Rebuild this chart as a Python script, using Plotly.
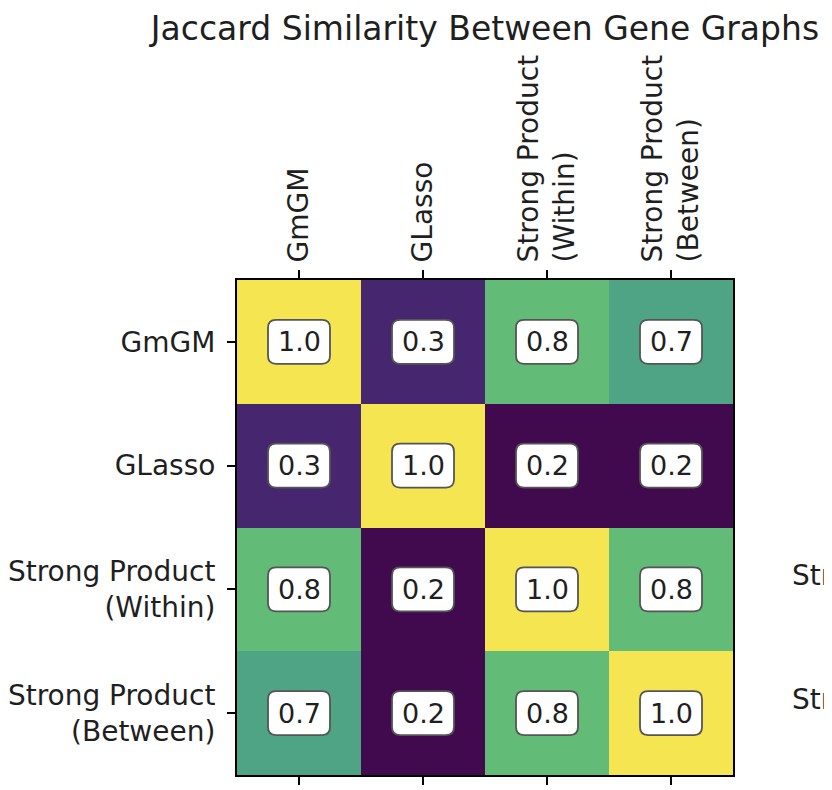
import plotly.graph_objects as go

labels = ["GmGM", "GLasso", "Strong Product<br>(Within)", "Strong Product<br>(Between)"]
row_gmgm = [1.0, 0.26, 0.78, 0.68]
row_glasso = [0.26, 1.0, 0.20, 0.20]
row_spw = [0.78, 0.20, 1.0, 0.78]
row_spb = [0.68, 0.20, 0.78, 1.0]
matrix = [row_gmgm, row_glasso, row_spw, row_spb]
title = "Jaccard Similarity Between Gene Graphs"

# viridis as it appears in the reference picture
colorscale = [[0.0, "#410a4f"], [0.075, "#472670"], [0.3, "#3b5a8c"],
              [0.6, "#4ea485"], [0.725, "#63bb78"], [1.0, "#f5e550"]]

n = len(labels)
idx = list(range(n))
W, H = 832, 790
L, R, T, B = 229, 107, 272, 23
FONT = "DejaVu Sans"
TXT = "#1f1f1f"

flat = [v for r in matrix for v in r]
fig = go.Figure(go.Heatmap(
    z=matrix, x=idx, y=idx, colorscale=colorscale,
    zmin=min(flat), zmax=max(flat), showscale=False, hoverinfo="skip",
))

cell_px = (W - L - R) / n
hw, hh, rr = 31 / cell_px, 22 / cell_px, 8 / cell_px
shapes = []
annotations = []
for i in idx:
    for j in idx:
        cx, cy = j, i
        x0, x1 = cx - hw, cx + hw
        y0, y1 = cy - hh, cy + hh
        path = (f"M {x0+rr},{y0} L {x1-rr},{y0} Q {x1},{y0} {x1},{y0+rr} "
                f"L {x1},{y1-rr} Q {x1},{y1} {x1-rr},{y1} L {x0+rr},{y1} "
                f"Q {x0},{y1} {x0},{y1-rr} L {x0},{y0+rr} Q {x0},{y0} {x0+rr},{y0} Z")
        shapes.append(dict(type="path", path=path, xref="x", yref="y",
                           fillcolor="white", line=dict(color="#555555", width=1.8),
                           layer="above"))
        annotations.append(dict(x=cx, y=cy, xref="x", yref="y", text=f"{matrix[i][j]:.1f}",
                                showarrow=False, font=dict(size=27, color=TXT, family=FONT)))

# tick labels of a neighbouring panel, cut off at the right edge
for i in idx:
    annotations.append(dict(x=(994 - L) / (W - L - R), y=i, xref="paper", yref="y",
                            text=labels[i], showarrow=False, xanchor="right", align="right",
                            yshift=-4, font=dict(size=28, color=TXT, family=FONT)))

fig.update_layout(
    width=W, height=H, margin=dict(l=L, r=R, t=T, b=B, autoexpand=False),
    paper_bgcolor="white", plot_bgcolor="white",
    font=dict(family=FONT, color=TXT, size=28),
    title=dict(text=title, x=0.5, xref="paper", xanchor="center",
               y=1 - 20 / H, yref="container", yanchor="middle", automargin=False,
               font=dict(size=33, color=TXT, family=FONT)),
    shapes=shapes, annotations=annotations,
)
fig.update_xaxes(
    side="top", tickmode="array", tickvals=idx, ticktext=labels, tickangle=-90,
    range=[-0.5, n - 0.5], showgrid=False, zeroline=False, automargin=False,
    ticks="outside", ticklen=8, tickwidth=2, tickcolor="black",
    showline=True, linecolor="black", linewidth=2, mirror="ticks",
    tickfont=dict(size=28, color=TXT, family=FONT), ticklabelstandoff=2,
)
fig.update_yaxes(
    tickmode="array", tickvals=idx, ticktext=labels,
    range=[n - 0.5, -0.5], showgrid=False, zeroline=False, automargin=False,
    ticks="outside", ticklen=8, tickwidth=2, tickcolor="black",
    showline=True, linecolor="black", linewidth=2, mirror=True,
    tickfont=dict(size=28, color=TXT, family=FONT), ticklabelstandoff=6,
)
fig.write_html("out.html")
